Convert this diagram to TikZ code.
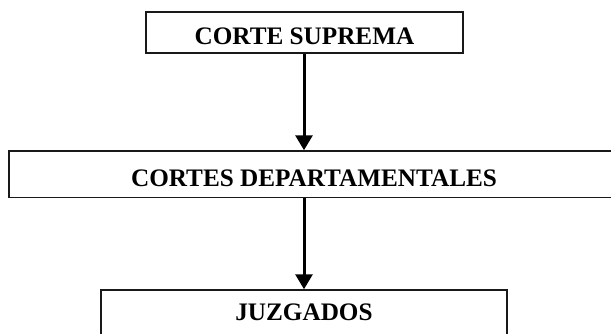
\documentclass[tikz,border=0pt]{standalone}
\usepackage{fontspec}
\setmainfont{Liberation Serif}
\usepackage{tikz}
\usetikzlibrary{arrows.meta}

\begin{document}
\begin{tikzpicture}[x=0.5pt,y=-0.5pt,
                    box/.style={draw=black!90,line width=0.75pt,
                                font=\fontsize{12.6}{15}\selectfont\bfseries,
                                inner sep=0pt},
                    lowtext/.style={text height=12.1pt,text depth=0pt},
                    hightext/.style={text height=8.3pt,text depth=3.5pt},
                    link/.style={line width=1.5pt,
                                 -{Triangle[width=8.5pt,length=7.5pt]}}]

\useasboundingbox (0,0) rectangle (611,333);
\clip (0,0) rectangle (611,333);

\node[box,lowtext,minimum width=158.5pt,minimum height=20.5pt] (SUP) at(304.5,32.5) {CORTE SUPREMA};
\node[box,lowtext,minimum width=305pt,minimum height=23.3pt] (DEP) at(314,174.3) {CORTES DEPARTAMENTALES};
\node[box,hightext,minimum width=203pt,minimum height=26pt] (JUZ) at(304,316) {JUZGADOS};

\draw[link] (SUP.south -| JUZ.north) -- (DEP.north -| JUZ.north);
\draw[link] (DEP.south -| JUZ.north) -- (JUZ.north);
\end{tikzpicture}
\end{document}
